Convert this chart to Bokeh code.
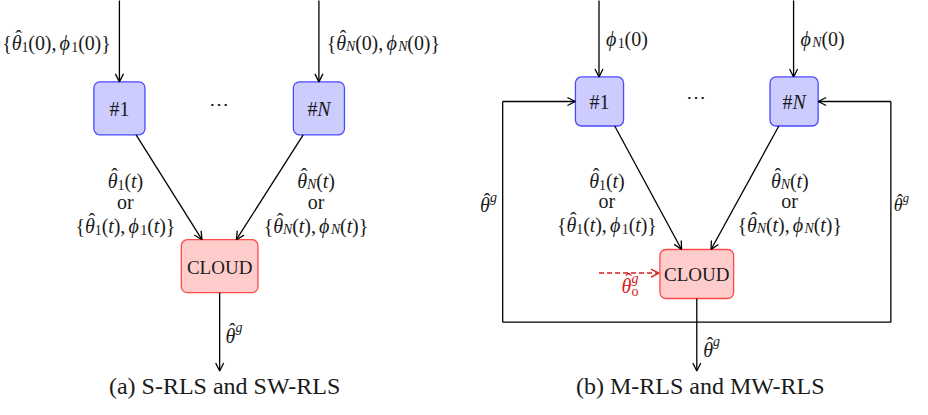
from bokeh.plotting import figure
from bokeh.models import Range1d, Arrow, OpenHead, ColumnDataSource
from bokeh.core.properties import value
from bokeh.embed import file_html
from bokeh.resources import INLINE

FONT = "Liberation Serif"
FS = 20          # math labels
BOX_FS = 20      # "#1", "#N"
CLOUD_FS = 19
CAP_FS = 24
TXT = "#1a1a1a"
RED = "#d42020"
TEXT_DY = -6     # baseline correction for svg text placement

# ---------------- nodes (boxes) ----------------
node_label = ["#1", "#N", "CLOUD", "#1", "#N", "CLOUD"]
node_cx = [121, 324, 223, 609.5, 807.5, 708.5]
node_cy = [110, 110, 271, 103, 103, 279]
node_w = [52, 52, 78, 49, 49, 75]
node_h = [54, 54, 54, 50, 50, 50]
node_kind = ["agent", "agent", "cloud", "agent", "agent", "cloud"]

# ---------------- edges (arrows) ----------------
edge_x0 = [121, 324, 138, 308, 223, 609, 807, 625, 792, 708.5, 511, 906]
edge_y0 = [-5, -5, 137, 137, 298, -5, -5, 128, 128, 304, 103, 103]
edge_x1 = [121, 324, 205, 240, 223, 609, 807, 693, 723, 708.5, 585, 832]
edge_y1 = [83, 83, 244, 244, 378, 78, 78, 254, 254, 378, 103, 103]

# feedback loop (panel b)
loop_x = [511, 511, 906, 906]
loop_y = [103, 328, 328, 103]

# red dashed initial estimate arrow
init_x0, init_y0, init_x1, init_y1 = [609], [278], [670], [278]

# ---------------- glyph widths (em) ----------------
REG = {' ': 0.17, '(': 0.333, ')': 0.333, '{': 0.48, '}': 0.48, ',': 0.25,
       '0': 0.5, '1': 0.5, '#': 0.5, 'o': 0.5, 'r': 0.333}
ITA = {'θ': 0.50, 'ϕ': 0.60, 'N': 0.667, 't': 0.278, 'g': 0.5}


def S(t, st="r", pos=0, adv=True, hat=False):
    return dict(t=t, st=st, pos=pos, adv=adv, hat=hat)


TH = S("θ", "i", hat=True)
PH = "ϕ"


def sub(idx):
    return S(idx, "i" if idx == "N" else "r", -1)


def pair_label(idx, arg):
    return [S("{"), TH, sub(idx), S("("), *arg, S("), "),
            S(PH, "i"), sub(idx), S("("), *arg, S(")}")]


def theta_t(idx):
    return [TH, sub(idx), S("("), S("t", "i"), S(")")]


def phi0(idx):
    return [S(PH, "i"), sub(idx), S("(0)")]


zero = [S("0")]
targ = [S("t", "i")]
theta_g = [TH, S("g", "i", 1)]
theta_g0 = [TH, S("g", "i", 2, adv=False), S("o", "r", -2)]

# labels: x, baseline y, align, segments, color, size
labels = [
    (112, 49, "right", pair_label("1", zero), TXT, FS),
    (332, 49, "left", pair_label("N", zero), TXT, FS),
    (121, 117, "center", [S("#1")], TXT, BOX_FS),
    (324, 117, "center", [S("#"), S("N", "i")], TXT, BOX_FS),
    (222, 112, "center", [S("⋯")], TXT, FS),
    (127, 190, "center", theta_t("1"), TXT, FS),
    (127, 212, "center", [S("or")], TXT, FS),
    (127, 236, "center", pair_label("1", targ), TXT, FS),
    (321, 190, "center", theta_t("N"), TXT, FS),
    (321, 212, "center", [S("or")], TXT, FS),
    (321, 236, "center", pair_label("N", targ), TXT, FS),
    (223, 278, "center", [S("CLOUD")], TXT, CLOUD_FS),
    (229, 348, "left", theta_g, TXT, FS),
    (228, 399, "center", [S("(a) S-RLS and SW-RLS")], TXT, CAP_FS),
    (616, 45, "left", phi0("1"), TXT, FS),
    (814, 45, "left", phi0("N"), TXT, FS),
    (609.5, 110, "center", [S("#1")], TXT, BOX_FS),
    (807.5, 110, "center", [S("#"), S("N", "i")], TXT, BOX_FS),
    (708, 104, "center", [S("⋯")], TXT, FS),
    (617, 190, "center", theta_t("1"), TXT, FS),
    (617, 211, "center", [S("or")], TXT, FS),
    (617, 235, "center", pair_label("1", targ), TXT, FS),
    (803, 190, "center", theta_t("N"), TXT, FS),
    (803, 211, "center", [S("or")], TXT, FS),
    (803, 235, "center", pair_label("N", targ), TXT, FS),
    (708.5, 285, "center", [S("CLOUD")], TXT, CLOUD_FS),
    (488, 215, "left", theta_g, TXT, FS),
    (909, 215, "left", theta_g, TXT, 18),
    (632, 297, "left", theta_g0, RED, FS),
    (715, 362, "left", theta_g, TXT, FS),
    (712, 399, "center", [S("(b) M-RLS and MW-RLS")], TXT, CAP_FS),
]

p = figure(width=912, height=399, x_range=Range1d(0, 928), y_range=Range1d(407, 0),
           output_backend="svg", toolbar_location=None, min_border=0,
           x_axis_type=None, y_axis_type=None)
p.grid.visible = False
p.outline_line_color = None
p.background_fill_color = "white"
p.border_fill_color = "white"

# boxes
box = dict(left=[], right=[], top=[], bottom=[], fill=[], line=[])
for cx, cy, w, h, k in zip(node_cx, node_cy, node_w, node_h, node_kind):
    box["left"].append(cx - w / 2)
    box["right"].append(cx + w / 2)
    box["top"].append(cy - h / 2)
    box["bottom"].append(cy + h / 2)
    box["fill"].append("#ccccff" if k == "agent" else "#ffcccc")
    box["line"].append("#4a4aff" if k == "agent" else "#ff4a4a")
p.quad(left="left", right="right", top="top", bottom="bottom", fill_color="fill",
       line_color="line", line_width=1.3, border_radius=6, source=ColumnDataSource(box))

# loop
p.line(loop_x, loop_y, line_color="black", line_width=1.3)

# arrows
esrc = ColumnDataSource(dict(x0=edge_x0, y0=edge_y0, x1=edge_x1, y1=edge_y1))
p.add_layout(Arrow(end=OpenHead(size=8, line_width=1.3, line_color="black"),
                   x_start="x0", y_start="y0", x_end="x1", y_end="y1",
                   line_width=1.3, line_color="black", source=esrc))
rsrc = ColumnDataSource(dict(x0=init_x0, y0=init_y0, x1=init_x1, y1=init_y1))
p.add_layout(Arrow(end=OpenHead(size=8, line_width=1.4, line_color=RED),
                   x_start="x0", y_start="y0", x_end="x1", y_end="y1",
                   line_width=1.4, line_color=RED, line_dash="5 3", source=rsrc))

# texts
groups = {}
SHIFT = {0: 0.0, -1: 0.2, 1: -0.42, 2: -0.38, -2: 0.27}


def add(key, x, y, t, size):
    g = groups.setdefault(key, dict(x=[], y=[], text=[], size=[]))
    g["x"].append(x); g["y"].append(y + TEXT_DY); g["text"].append(t); g["size"].append(f"{size:.1f}px")


def seg_w(sg, size):
    tbl = ITA if sg["st"] == "i" else REG
    return sum(tbl.get(c, 0.5) for c in sg["t"]) * size


for x, y, align, segs, color, size in labels:
    if len(segs) == 1 and segs[0]["pos"] == 0:
        sg = segs[0]
        add((sg["st"], color, align), x, y, sg["t"], size)
        continue
    widths = []
    for sg in segs:
        s = size * (0.7 if sg["pos"] else 1)
        widths.append(seg_w(sg, s) if sg["adv"] else 0.0)
    total = sum(widths)
    cx = x - total / 2 if align == "center" else (x - total if align == "right" else x)
    for sg, w in zip(segs, widths):
        s = size * (0.7 if sg["pos"] else 1)
        dy = SHIFT[sg["pos"]] * size
        add((sg["st"], color, "left"), cx, y + dy, sg["t"], s)
        if sg["hat"]:
            add(("r", color, "center"), cx + 0.5 * w + 0.1 * size, y - 0.24 * size, "ˆ", size)
        cx += w

for (st, color, align), g in groups.items():
    p.text(x="x", y="y", text="text", text_font_size="size", source=ColumnDataSource(g),
           text_font=value(FONT), text_font_style="italic" if st == "i" else "normal",
           text_color=color, text_align=align, text_baseline="alphabetic")

open("out.html", "w").write(file_html(p, INLINE))
